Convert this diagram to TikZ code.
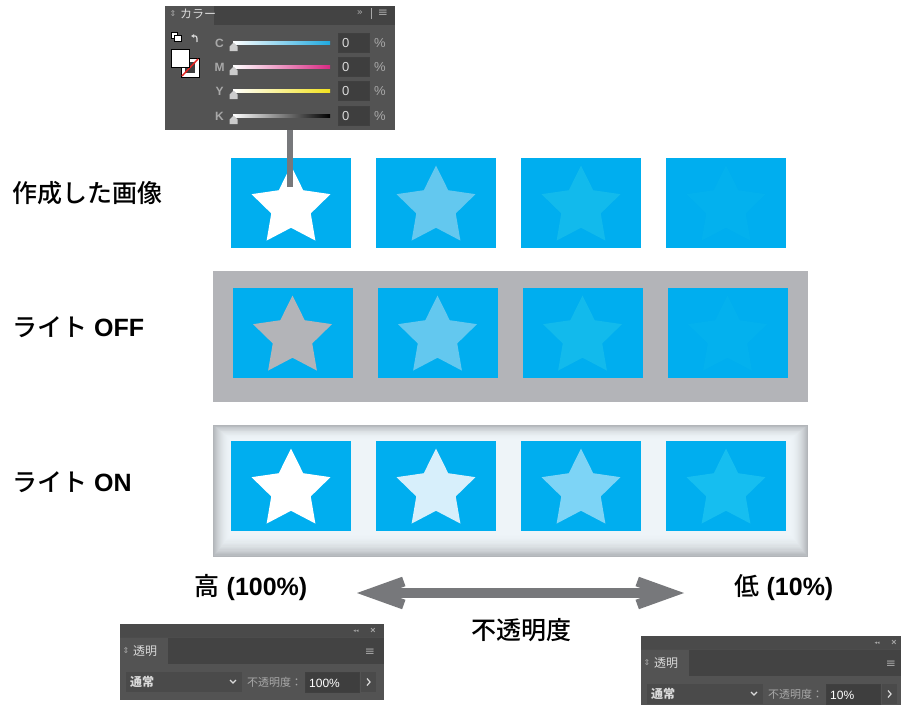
\documentclass[tikz,border=0pt]{standalone}
\usepackage{fontspec}
\setmainfont{Liberation Sans}
\newfontfamily\jp{Noto Sans CJK JP}
\newfontfamily\jpm{Noto Sans CJK JP Medium}
\newfontfamily\symf{DejaVu Sans}
\usetikzlibrary{shapes.geometric,arrows.meta}
\definecolor{skyblue}{HTML}{00AEEF}
\definecolor{starB}{HTML}{63C8EF}
\definecolor{starC}{HTML}{12BAEC}
\definecolor{starD}{HTML}{03B1EE}
\definecolor{offgray}{HTML}{B3B4B8}
\definecolor{onB}{HTML}{D7EFFB}
\definecolor{onC}{HTML}{7DD4F6}
\definecolor{onD}{HTML}{16BEF0}
\definecolor{onedge}{HTML}{B2B5B9}
\definecolor{onface}{HTML}{EEF4F8}
\definecolor{arrowgray}{HTML}{77787B}
\definecolor{panelbg}{HTML}{535353}
\definecolor{paneldark}{HTML}{434343}
\definecolor{panelbar}{HTML}{4A4A4A}
\definecolor{fieldbg}{HTML}{3E3E3E}
\definecolor{uitext}{HTML}{A8A8A8}
\definecolor{uilight}{HTML}{DADADA}
\definecolor{cyanbar}{HTML}{1FA9DF}
\definecolor{magbar}{HTML}{D82A83}
\definecolor{yelbar}{HTML}{F2E21E}
\definecolor{slashred}{HTML}{E52421}

\begin{document}
\begin{tikzpicture}[x=1pt,y=-1pt,
		picbox/.style={fill=skyblue,minimum width=120pt,minimum height=90pt,inner sep=0pt},
		starnode/.style={star,star points=5,star point ratio=2,minimum size=83pt,inner sep=0pt},
		rowlabel/.style={anchor=west,inner sep=0pt,font=\fontsize{25}{30}\selectfont\bfseries},
		biglabel/.style={inner sep=0pt,font=\fontsize{25}{30}\selectfont\bfseries},
		uilabel/.style={inner sep=0pt,text=uitext,font=\jp\fontsize{11}{13}\selectfont},
		uifield/.style={fill=fieldbg,draw=black!75,line width=0.6pt,inner sep=0pt},
		icon/.style={draw=uilight,line width=1.2pt},
		link/.style={draw=arrowgray,line width=6pt},
		dblarrow/.style={draw=arrowgray,line width=10pt,arrows={Straight Barb[length=32pt,width=23pt]-Straight Barb[length=32pt,width=23pt]}}]
	\fill[white] (0,0) rectangle (901,704);
	\useasboundingbox (0,0) rectangle (901,704);

	% color panel
	\draw (165,6) node (colorpanel)[fill=panelbg,minimum width=230pt,minimum height=124pt,anchor=north west,inner sep=0pt]{};
	\fill[paneldark] (214,6) rectangle (395,25);
	\draw (173,14) node (tabgrip)[inner sep=0pt,text=uitext,font=\symf\fontsize{8}{8}\selectfont]{⇕};
	\draw (180,14) node (tabcolor)[uilabel,anchor=west,text=uilight,font=\jp\fontsize{12}{13}\selectfont]{カラー};
	\draw (360,13) node (collapse)[inner sep=0pt,text=uitext,font=\symf\fontsize{10}{10}\selectfont]{»};
	\draw[draw=uitext,line width=0.8pt] (371,8) -- (371,19);
	\draw (383,13) node (menu)[inner sep=0pt,text=uitext,font=\symf\fontsize{12}{12}\selectfont]{≡};
	\draw[black,fill=white,line width=0.6pt] (171,32) rectangle (177,38);
	\draw[black,fill=white,line width=0.6pt] (174,35) rectangle (181,41);
	\draw[icon,-{Latex[length=3pt,width=4pt]}] (197,42) .. controls (197,36) .. (191,36);
	\draw[black,fill=white,line width=0.8pt] (181,58) rectangle (199,77);
	\fill[fieldbg] (185,62) rectangle (195,73);
	\draw[slashred,line width=1.5pt] (182,76) -- (198,59);
	\draw[black,fill=white,line width=0.8pt] (171,49) rectangle (189,67);
	\foreach \lab/\yy/\col in {C/43/cyanbar,M/67/magbar,Y/91/yelbar,K/116/black} {
		\draw (219.5,\yy) node (lab\lab)[inner sep=0pt,text=uitext,font=\bfseries\fontsize{12}{12}\selectfont]{\lab};
		\shade[left color=white,right color=\col] (233,\yy-2) rectangle (330,\yy+1.5);
		\fill[black!20] (233.5,\yy-0.5) -- (237.5,\yy+3.5) -- (237.5,\yy+8) -- (229.5,\yy+8) -- (229.5,\yy+3.5) -- cycle;
		\draw (353.5,\yy) node (val\lab)[uifield,minimum width=31pt,minimum height=19pt]{};
		\draw (342,\yy) node (num\lab)[anchor=west,inner sep=0pt,text=uilight,font=\fontsize{13}{13}\selectfont]{0};
		\draw (380,\yy) node (pct\lab)[inner sep=0pt,text=uitext,font=\fontsize{13}{13}\selectfont]{\%};
	}

	% rows
	\fill[offgray] (213,271) rectangle (808,402);
	\fill[onedge] (213,425) rectangle (808,557);
	\foreach \i in {1,...,18} {
		\pgfmathsetmacro\mix{100*(1-\i/18)^2}
		\fill[onedge!\mix!onface] ({213+\i},{425+0.8*\i}) rectangle ({808-\i},{557-1.3*\i});
	}
	\foreach \x/\ca/\cb/\cc [count=\i] in {291/white/offgray/white,436/starB/starB/onB,581/starC/starC/onC,726/starD/starD/onD} {
		\draw (\x,203) node (b1\i)[picbox]{};
		\draw (\x,207) node (s1\i)[starnode,fill=\ca]{};
		\draw (\x+1.5,333) node (b2\i)[picbox]{};
		\draw (\x+1.5,337) node (s2\i)[starnode,fill=\cb]{};
		\draw (\x,486) node (b3\i)[picbox]{};
		\draw (\x,490) node (s3\i)[starnode,fill=\cc]{};
	}
	\draw (12,193) node (made)[rowlabel]{\jpm\mdseries 作成した画像};
	\draw (12,327) node (lightoff)[rowlabel]{{\jpm\mdseries ライト} \textbf{OFF}};
	\draw (12,482) node (lighton)[rowlabel]{{\jpm\mdseries ライト} \textbf{ON}};

	\coordinate (pick) at (290,187);
	\draw[link] (colorpanel.south -| pick) -- (pick);

	% opacity scale
	\draw (251,588) node (high)[biglabel]{{\jpm\mdseries 高} \textbf{(100\%)}};
	\draw (784,588) node (low)[biglabel]{{\jpm\mdseries 低} \textbf{(10\%)}};
	\coordinate (hiend) at (357,593);
	\coordinate (loend) at (684,593);
	\draw[dblarrow] (hiend) -- (loend);
	\draw (521,630) node (opacity)[biglabel]{\jpm\mdseries 不透明度};

	% transparency panels
	\foreach \px/\py/\val/\nm in {120/624/100/L,641/636/10/R} {
		\begin{scope}[shift={(\px,\py)}]
			\fill[panelbg] (0,0) rectangle (264,76);
			\fill[panelbar] (0,0) rectangle (264,13);
			\fill[paneldark] (48,13) rectangle (264,40);
			\draw[black!70,line width=0.6pt] (0,13) -- (264,13);
			\draw (236,7) node (shrink\nm)[inner sep=0pt,text=uitext,font=\symf\fontsize{5}{5}\selectfont]{◂◂};
			\draw (253,7) node (close\nm)[inner sep=0pt,text=uitext,font=\bfseries\fontsize{9}{9}\selectfont]{×};
			\draw (6,27) node (grip\nm)[inner sep=0pt,text=uitext,font=\symf\fontsize{8}{8}\selectfont]{⇕};
			\draw (13,27) node (tab\nm)[uilabel,anchor=west,text=uilight,font=\jp\fontsize{12}{13}\selectfont]{透明};
			\draw (250,28) node (menu\nm)[inner sep=0pt,text=uitext,font=\symf\fontsize{12}{12}\selectfont]{≡};
			\draw (64,58) node (mode\nm)[fill=panelbar,minimum width=116pt,minimum height=20pt,inner sep=0pt]{};
			\draw (10,58) node (normal\nm)[uilabel,anchor=west,text=uilight,font=\jp\bfseries\fontsize{12}{13}\selectfont]{通常};
			\draw[icon] (110,56) -- (113,59) -- (116,56);
			\draw (127,58) node (opac\nm)[uilabel,anchor=west]{不透明度：};
			\draw (212,58) node (field\nm)[uifield,minimum width=54pt,minimum height=20pt]{};
			\draw (189,59) node (pct\nm)[anchor=west,inner sep=0pt,text=white,font=\fontsize{12}{12}\selectfont]{\val\%};
			\draw (248.5,58) node (next\nm)[fill=panelbar,minimum width=15pt,minimum height=20pt,inner sep=0pt]{};
			\draw[icon] (247,54.5) -- (250,58) -- (247,61.5);
		\end{scope}
	}
\end{tikzpicture}
\end{document}
